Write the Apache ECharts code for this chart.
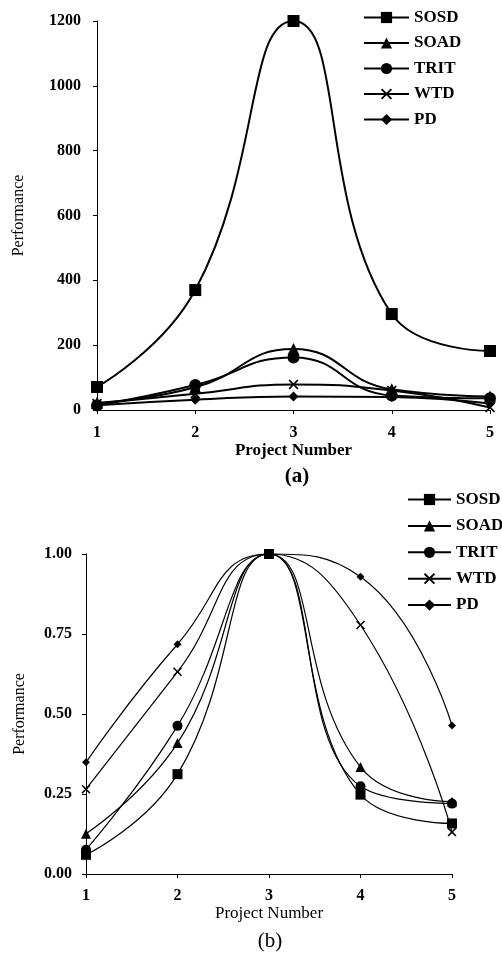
<!DOCTYPE html>
<html>
<head>
<meta charset="utf-8">
<script src="https://cdn.jsdelivr.net/npm/echarts@6/dist/echarts.min.js"></script>
<style>
html,body{margin:0;padding:0;background:#fff;}
#chart{width:502px;height:953px;}
</style>
</head>
<body>
<div id="chart"></div>
<script>
// ---- data ----
const projects = ['1', '2', '3', '4', '5'];
const seriesNames = ['SOSD', 'SOAD', 'TRIT', 'WTD', 'PD'];
// (a) absolute performance
const sosdA = [71, 370, 1200, 296, 182];
const soadA = [22, 70, 188, 64, 42];
const tritA = [14, 77, 162, 45, 36];
const wtdA = [20, 50, 79, 60, 8];
const pdA = [15, 32, 42, 40, 20];
// (b) normalized performance
const sosdB = [0.06, 0.312, 1.0, 0.248, 0.158];
const soadB = [0.126, 0.409, 1.0, 0.334, 0.226];
const tritB = [0.076, 0.463, 1.0, 0.274, 0.220];
const wtdB = [0.265, 0.632, 1.0, 0.778, 0.131];
const pdB = [0.349, 0.718, 1.0, 0.929, 0.464];
const yTicksA = [0, 200, 400, 600, 800, 1000, 1200];
const yTicksB = [0, 0.25, 0.5, 0.75, 1.0];

const FONT = '"Liberation Serif", "DejaVu Serif", serif';
const X_PATH = 'path://M0,1.2 L1.2,0 L5,3.8 L8.8,0 L10,1.2 L6.2,5 L10,8.8 L8.8,10 L5,6.2 L1.2,10 L0,8.8 L3.8,5 Z';
const symbols = ['rect', 'triangle', 'circle', X_PATH, 'diamond'];
const sizesA = [12, 12, 12, 10, 10];
const sizesB = [10, 10, 10, 9, 8];
const dataA = [sosdA, soadA, tritA, wtdA, pdA];
const dataB = [sosdB, soadB, tritB, wtdB, pdB];

const axisLabelStyle = { color: '#000', fontFamily: FONT, fontWeight: 'bold', fontSize: 16 };
const axisNameStyle = { color: '#000', fontFamily: FONT, fontSize: 16 };

function makeSeries(data, idx, sizes, width, smooth) {
  return data.map((d, i) => ({
    name: seriesNames[i],
    type: 'line',
    xAxisIndex: idx,
    yAxisIndex: idx,
    data: d,
    smooth: smooth,
    clip: false,
    symbol: symbols[i],
    symbolSize: sizes[i],
    showAllSymbol: true,
    lineStyle: { color: '#000', width: width },
    itemStyle: { color: '#000' },
    emphasis: { disabled: true },
    z: 10 - i
  }));
}

const legendText = { fontFamily: FONT, fontWeight: 'bold', fontSize: 17, color: '#000' };

const chart = echarts.init(document.getElementById('chart'), null, { renderer: 'canvas' });
chart.setOption({
  backgroundColor: '#fff',
  animation: false,
  title: [
    { text: '(a)', left: 292, top: 461, textAlign: 'center',
      textStyle: { fontFamily: FONT, fontWeight: 'bold', fontSize: 21, color: '#000' } },
    { text: '(b)', left: 265, top: 926, textAlign: 'center',
      textStyle: { fontFamily: FONT, fontWeight: 'normal', fontSize: 21, color: '#000' } }
  ],
  legend: [
    { data: seriesNames, orient: 'vertical', left: 358, top: 4, itemWidth: 45, itemHeight: 14, itemGap: 8.5,
      selectedMode: false, textStyle: legendText },
    { data: seriesNames, orient: 'vertical', left: 402, top: 486, itemWidth: 43, itemHeight: 14, itemGap: 9.4,
      selectedMode: false, textStyle: legendText }
  ],
  grid: [
    { left: 97, right: 12, top: 21, height: 389 },
    { left: 86, right: 50, top: 554, height: 320 }
  ],
  xAxis: [0, 1].map(i => ({
    gridIndex: i,
    type: 'category',
    data: projects,
    boundaryGap: false,
    name: 'Project Number',
    nameLocation: 'middle',
    nameGap: i === 0 ? 30 : 31,
    nameTextStyle: Object.assign({}, axisNameStyle, { fontWeight: i === 0 ? 'bold' : 'normal', fontSize: 17 }),
    axisLine: { lineStyle: { color: '#000', width: 1 } },
    axisTick: { show: true, length: 4, lineStyle: { color: '#000' } },
    axisLabel: Object.assign({}, axisLabelStyle, { margin: i === 0 ? 15 : 14 }),
    splitLine: { show: false }
  })),
  yAxis: [
    { gridIndex: 0, type: 'value', min: 0, max: 1200, interval: 200,
      name: 'Performance', nameLocation: 'middle', nameGap: 70,
      nameTextStyle: axisNameStyle,
      axisLine: { show: true, lineStyle: { color: '#000', width: 1 } },
      axisTick: { show: true, length: 4, lineStyle: { color: '#000' } },
      axisLabel: Object.assign({}, axisLabelStyle, { margin: 16,
        customValues: yTicksA, formatter: v => String(v) }),
      splitLine: { show: false } },
    { gridIndex: 1, type: 'value', min: 0, max: 1, interval: 0.25,
      name: 'Performance', nameLocation: 'middle', nameGap: 58,
      nameTextStyle: axisNameStyle,
      axisLine: { show: true, lineStyle: { color: '#000', width: 1 } },
      axisTick: { show: true, length: 4, lineStyle: { color: '#000' } },
      axisLabel: Object.assign({}, axisLabelStyle, { margin: 14,
        customValues: yTicksB, formatter: v => v.toFixed(2) }),
      splitLine: { show: false } }
  ],
  series: makeSeries(dataA, 0, sizesA, 2, 0.5).concat(makeSeries(dataB, 1, sizesB, 1.2, 0.5))
});
</script>
</body>
</html>
